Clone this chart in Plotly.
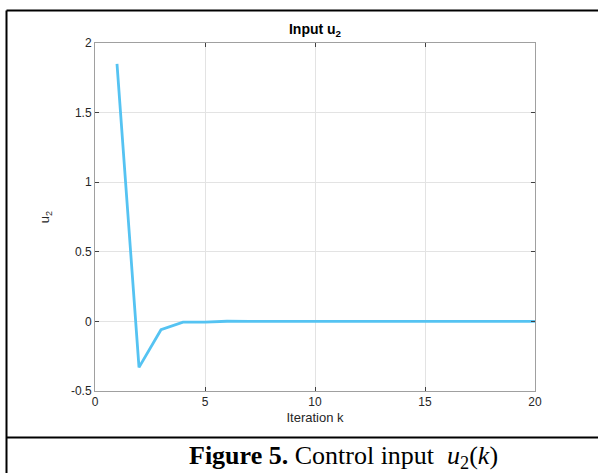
import plotly.graph_objects as go

k_values = list(range(1, 21))
u2_values = [1.85, -0.33, -0.06, -0.005, -0.005, 0.001, 0.0, 0.0, 0.0, 0.0,
             0.0, 0.0, 0.0, 0.0, 0.0, 0.0, 0.0, 0.0, 0.0, 0.0]
x_ticks = [0, 5, 10, 15, 20]
y_ticks = [-0.5, 0, 0.5, 1, 1.5, 2]
y_tick_labels = ["-0.5", "0", "0.5", "1", "1.5", "2"]

W, H = 598, 473
L, R, T, B = 95, 535, 43, 391

def px(x):
    return (x - L) / (R - L)

def py(y):
    return (B - y) / (B - T)

SANS = "Liberation Sans, Arial"
fig = go.Figure()
fig.add_trace(go.Scatter(x=k_values, y=u2_values, mode="lines",
                         line=dict(color="#55C3F2", width=2.8), showlegend=False))

axis_common = dict(showgrid=True, gridcolor="#E3E3E3", gridwidth=1,
                   showline=True, linecolor="#A0A0A0", linewidth=1,
                   mirror="ticks", ticks="inside", ticklen=4, tickcolor="#404040",
                   tickfont=dict(family=SANS, size=12, color="#262626"),
                   zeroline=False)

fig.update_xaxes(range=[0, 20], tickvals=x_ticks,
                 title=dict(text="Iteration k", font=dict(family=SANS, size=13, color="#262626"), standoff=4),
                 **axis_common)
fig.update_yaxes(range=[-0.5, 2], tickvals=y_ticks, ticktext=y_tick_labels,
                 title=dict(text="u<sub>2</sub>", font=dict(family=SANS, size=13, color="#262626"), standoff=18),
                 **axis_common)

fig.update_layout(
    width=W, height=H,
    margin=dict(l=L, r=W - R, t=T, b=H - B, pad=0),
    paper_bgcolor="white", plot_bgcolor="white",
    title=dict(text="<b>Input u<sub>2</sub></b>", x=315 / W, xanchor="center",
               y=1 - 29 / H, yanchor="middle",
               font=dict(family=SANS, size=14, color="black")),
)

# outer frame (table cell) lines
frame = dict(color="black", width=2)
fig.add_shape(type="line", xref="paper", yref="paper", x0=px(6.5), x1=px(600), y0=py(10.5), y1=py(10.5), line=frame)
fig.add_shape(type="line", xref="paper", yref="paper", x0=px(6.5), x1=px(6.5), y0=py(10.5), y1=py(475), line=frame)
fig.add_shape(type="line", xref="paper", yref="paper", x0=px(6.5), x1=px(600), y0=py(437.5), y1=py(437.5), line=frame)

fig.add_annotation(xref="paper", yref="paper", x=px(343), y=py(457), xanchor="center", yanchor="middle",
                   showarrow=False,
                   text="<b>Figure 5.</b> Control input  <i>u</i><sub>2</sub>(<i>k</i>)",
                   font=dict(family="Liberation Serif, Times New Roman", size=26, color="black"))

fig.write_html("out.html", config={"displayModeBar": False},
               post_script="document.body.style.margin='0px';")
